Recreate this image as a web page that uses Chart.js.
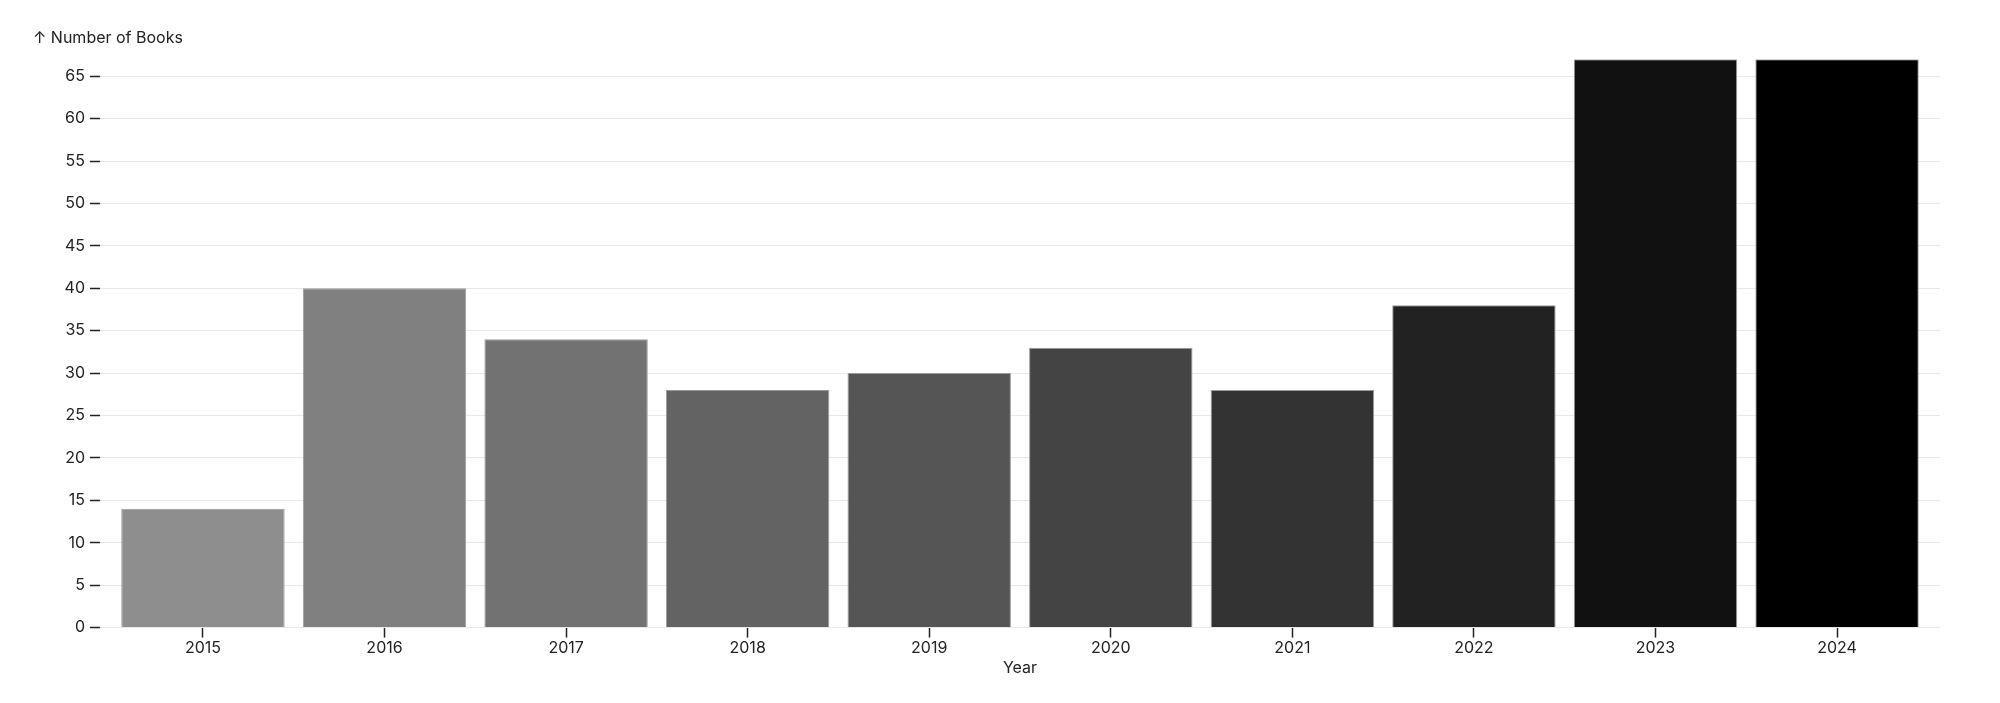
<!DOCTYPE html>
<html>
<head>
<meta charset="utf-8">
<script src="https://cdn.jsdelivr.net/npm/chart.js@4/dist/chart.umd.min.js"></script>
<style>
html,body{margin:0;padding:0;background:#fff;}
#wrap{width:2000px;height:703px;position:relative;}
</style>
</head>
<body>
<div id="wrap"><canvas id="c"></canvas></div>
<script>
const years = [2015, 2016, 2017, 2018, 2019, 2020, 2021, 2022, 2023, 2024];
const books = [14, 40, 34, 28, 30, 33, 28, 38, 67, 67];
const barColors = ['#8e8e8e', '#808080', '#727272', '#636363', '#555555', '#444444', '#333333', '#222222', '#111111', '#000000'];
const yTitle = '↑ Number of Books';
const xTitle = 'Year';

const FONT = 'Inter, "Noto Sans", sans-serif';
const TXT = '#222';

new Chart(document.getElementById('c'), {
  type: 'bar',
  data: {
    datasets: [{
      data: years.map((y, i) => ({x: y, y: books[i]})),
      backgroundColor: barColors,
      borderColor: '#9a9a9a',
      borderWidth: 1,
      barPercentage: 0.9,
      categoryPercentage: 1.0
    }]
  },
  options: {
    responsive: true,
    maintainAspectRatio: false,
    animation: false,
    layout: {padding: {left: 33, right: 60, top: 0, bottom: 23}},
    plugins: {
      legend: {display: false},
      tooltip: {enabled: false},
      title: {
        display: true,
        text: yTitle,
        align: 'start',
        color: TXT,
        font: {family: FONT, size: 16, weight: 'normal'},
        padding: {top: 29, bottom: 11}
      }
    },
    scales: {
      x: {
        type: 'linear',
        offset: false,
        min: years[0] - 0.567,
        max: years[years.length - 1] + 0.567,
        border: {display: false},
        grid: {offset: false, drawOnChartArea: false, drawTicks: true, tickLength: 10, tickColor: TXT, tickWidth: 1.5},
        ticks: {
          stepSize: 1,
          includeBounds: false,
          autoSkip: false,
          maxRotation: 0,
          padding: 1,
          color: TXT,
          font: {family: FONT, size: 16},
          callback: v => Number.isInteger(v) ? String(v) : ''
        },
        title: {display: true, text: xTitle, color: TXT, font: {family: FONT, size: 16}, padding: {top: 0, bottom: 2}}
      },
      y: {
        min: 0,
        max: 67,
        border: {display: false},
        afterFit: s => { s.width = 67; },
        grid: {color: '#e8e8e8', lineWidth: 1, drawTicks: true, tickLength: 10, tickColor: TXT, tickWidth: 1.5},
        ticks: {
          stepSize: 5,
          includeBounds: false,
          padding: 5,
          color: TXT,
          font: {family: FONT, size: 16}
        }
      }
    }
  }
});
</script>
</body>
</html>
